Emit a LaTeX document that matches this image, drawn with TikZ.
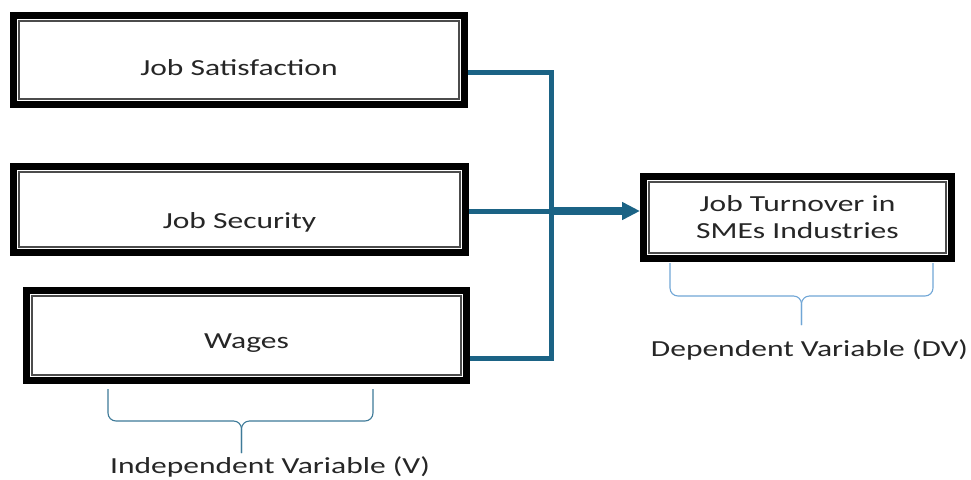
\documentclass[tikz,border=0pt]{standalone}
\usepackage{fontspec}
\setmainfont{Carlito}[FakeStretch=1.37]
\usepackage{tikz}
\usetikzlibrary{arrows.meta, calc}
\definecolor{linkblue}{RGB}{27,99,133}
\definecolor{bracedark}{RGB}{62,122,152}
\definecolor{bracelight}{RGB}{112,166,214}
\tikzset{
	every node/.style={
		font=\fontsize{23}{27}\selectfont,
		text=black!85
	},
	varbox/.style={
		shape=rectangle,
		preaction={draw=black, line width=18pt},
		preaction={draw=white, line width=4.5pt},
		fill=white,
		draw=black!70,
		line width=1.5pt,
		outer sep=9pt,
		inner sep=0pt,
		text depth=0pt,
		align=center
	},
	link/.style={draw=linkblue, line width=5pt},
	bigarrow/.style={draw=linkblue, line width=8pt, -{Triangle[length=18pt,width=17pt]}},
	vbrace/.style={draw=bracedark, line width=1.1pt, rounded corners=8pt},
	dvbrace/.style={draw=bracelight, line width=1.1pt, rounded corners=8pt}
}

\begin{document}
\begin{tikzpicture}[x=1pt,y=-1pt]
	\useasboundingbox (0,0) rectangle (971,479);
	
	\node[varbox, minimum width=440pt, minimum height=78pt, text height=30pt] (satisfaction) at (239,60) {Job Satisfaction};
	\node[varbox, minimum width=441pt, minimum height=75pt, text height=37pt] (security) at (239.5,209.5) {Job Security};
	\node[varbox, minimum width=429pt, minimum height=79pt, text height=25pt] (wages) at (246.5,335.5) {Wages};
	\node[varbox, minimum width=297pt, minimum height=71pt, text depth=] (turnover) at (797.5,217.5) {Job Turnover in\\SMEs Industries};
	
	\coordinate (join) at (551,211);
	
	\path[link]
	([yshift=-12pt]satisfaction.east) -| (join)
	([yshift=-22.5pt]wages.east) -| (join)
	(join -| security.east) -- (join);
	\path[bigarrow] (join) -- (join -| turnover.west);
	
	\draw[vbrace] (108,389) -- (108,421) -- (241.5,421) -- (241.5,453);
	\draw[vbrace] (373,389) -- (373,421) -- (241.5,421) -- (241.5,453);
	\draw[dvbrace] (670,263) -- (670,296) -- (801.5,296) -- (801.5,325);
	\draw[dvbrace] (933,263) -- (933,296) -- (801.5,296) -- (801.5,325);
	
	\node[anchor=base] (indep) at (270,473.5) {Independent Variable (V)};
	\node[anchor=base] (dep) at (809.5,356) {Dependent Variable (DV)};
	
\end{tikzpicture}
\end{document}
